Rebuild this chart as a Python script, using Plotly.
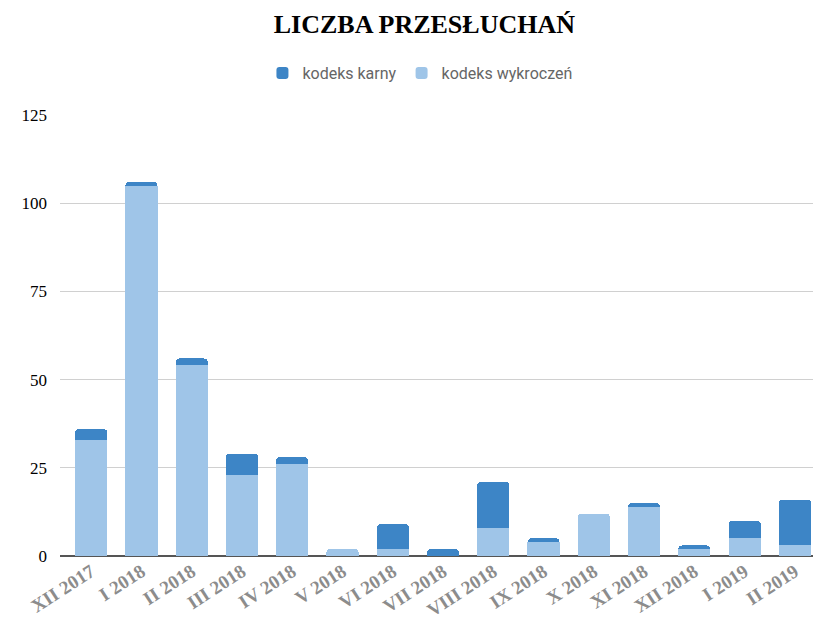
import plotly.graph_objects as go

categories = ["XII 2017", "I 2018", "II 2018", "III 2018", "IV 2018", "V 2018", "VI 2018",
              "VII 2018", "VIII 2018", "IX 2018", "X 2018", "XI 2018", "XII 2018", "I 2019", "II 2019"]
wykroczen = [33, 105, 54, 23, 26, 2, 2, 0, 8, 4, 12, 14, 2, 5, 3]
karny = [3, 1, 2, 6, 2, 0, 7, 2, 13, 1, 0, 1, 1, 5, 13]
y_ticks = [0, 25, 50, 75, 100, 125]

fig = go.Figure()
fig.add_trace(go.Bar(x=categories, y=wykroczen, name="kodeks wykroczeń",
                     marker=dict(color="#9fc5e8", line=dict(width=0))))
fig.add_trace(go.Bar(x=categories, y=karny, name="kodeks karny",
                     marker=dict(color="#3d85c6", line=dict(width=0))))

fig.update_layout(
    width=813, height=618,
    barmode="stack", bargap=0.36, barcornerradius=4,
    paper_bgcolor="white", plot_bgcolor="white",
    margin=dict(l=60, r=0, t=115, b=62),
    title=dict(text="<b>LICZBA PRZESŁUCHAŃ</b>", x=0.522, xanchor="center", y=0.961, yanchor="middle",
               yref="container", pad=dict(t=0, b=0),
               font=dict(family="Liberation Serif", size=26, color="#000000")),
    legend=dict(orientation="h", x=0.478, xanchor="center", y=1.095, yanchor="middle",
                traceorder="reversed", font=dict(family="Roboto", size=16, color="#666666"),
                itemwidth=30),
    showlegend=True,
)
fig.update_xaxes(range=[-0.62, 14.36], tickangle=-33, showgrid=False, automargin=False,
                 tickfont=dict(family="Liberation Serif", size=19, color="#8c8c8c", weight="bold"),
                 showline=False, ticks="")
fig.update_yaxes(range=[0, 125], tickvals=y_ticks, showgrid=True, gridcolor="#d0d0d0", gridwidth=1,
                 automargin=False,
                 tickfont=dict(family="Liberation Serif", size=17, color="#000000"),
                 zeroline=True, zerolinecolor="#555555", zerolinewidth=2, ticks="", ticklabelstandoff=12)

fig.write_html("out.html", config={"displayModeBar": False},
               post_script="document.body.style.margin='0px';document.body.style.overflow='hidden';")
